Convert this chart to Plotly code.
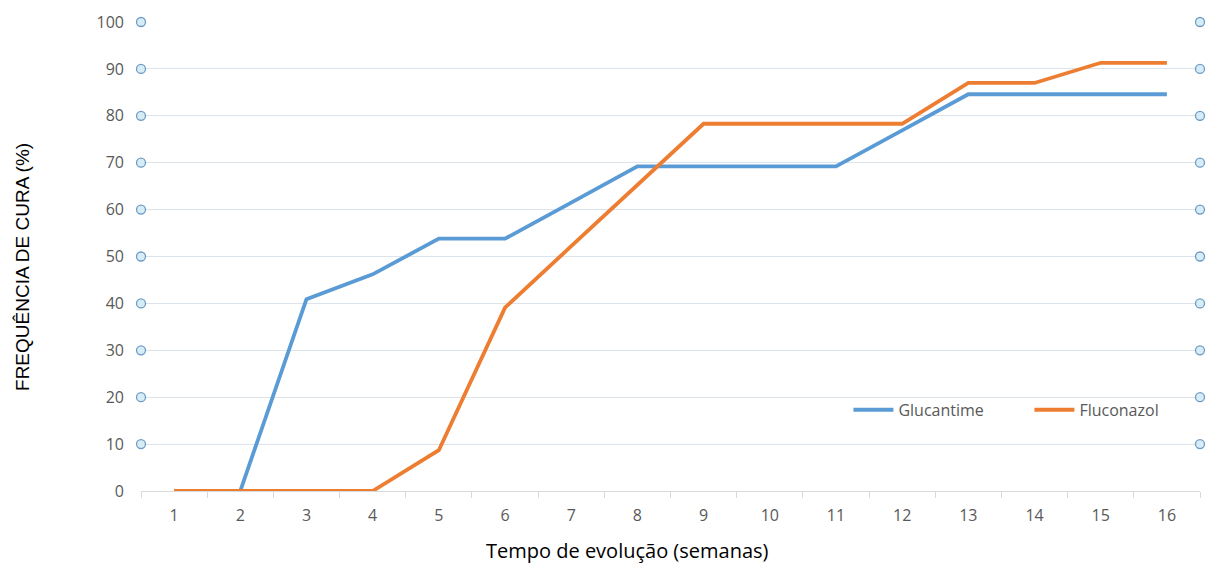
import plotly.graph_objects as go

weeks = [str(i) for i in range(1, 17)]
glucantime = [0, 0, 40.9, 46.2, 53.8, 53.8, 61.5, 69.2, 69.2, 69.2, 69.2, 76.9, 84.6, 84.6, 84.6, 84.6]
fluconazol = [0, 0, 0, 0, 8.7, 39.1, 52.2, 65.2, 78.3, 78.3, 78.3, 78.3, 87.0, 87.0, 91.3, 91.3]
y_ticks = [0, 10, 20, 30, 40, 50, 60, 70, 80, 90, 100]
marker_ticks = y_ticks[1:]

fig = go.Figure()
fig.add_trace(go.Scatter(x=weeks, y=glucantime, mode="lines", name="Glucantime",
                         line=dict(color="#5b9bd5", width=3.8)))
fig.add_trace(go.Scatter(x=weeks, y=fluconazol, mode="lines", name="Fluconazol",
                         line=dict(color="#ed7d31", width=3.8)))
# small circle markers at the tick positions on both sides
for side in [0, 1]:
    fig.add_trace(go.Scatter(x=[side] * len(marker_ticks), y=marker_ticks, mode="markers",
                             xaxis="x2", showlegend=False, hoverinfo="skip", cliponaxis=False,
                             marker=dict(size=9, color="#d6ecf7",
                                         line=dict(color="#6f9cc4", width=1.3))))

fig.update_layout(
    width=1214, height=563,
    margin=dict(l=133, r=22, t=14, b=80, autoexpand=False),
    paper_bgcolor="white", plot_bgcolor="white",
    font=dict(family="Open Sans", color="#595959", size=16),
    xaxis=dict(type="category", categoryorder="array", categoryarray=weeks,
               tickson="boundaries", ticks="outside", ticklen=6, tickcolor="#d9d9d9",
               showline=True, linecolor="#d9d9d9", linewidth=1, showgrid=False,
               range=[-0.5, 15.5], ticklabelstandoff=10),
    xaxis2=dict(overlaying="x", range=[0, 1], visible=False),
    yaxis=dict(range=[0, 100], tickvals=y_ticks, showgrid=True, gridcolor="#dde3ea",
               gridwidth=1, zeroline=False, showline=False, ticks="",
               ticklabelstandoff=16),
    legend=dict(orientation="h", x=0.668, y=0.173, xanchor="left", yanchor="middle",
                bgcolor="rgba(0,0,0,0)", font=dict(size=16, color="#595959"),
                itemwidth=40, entrywidth=126),
    annotations=[
        dict(text="Tempo de evolução (semanas)", xref="paper", yref="paper",
             x=0.459, y=-0.1258, xanchor="center", yanchor="middle", showarrow=False,
             font=dict(family="Open Sans", size=20, color="#000000")),
        dict(text="FREQUÊNCIA DE CURA (%)", xref="paper", yref="paper",
             x=-0.1124, y=0.4776, xanchor="center", yanchor="middle", showarrow=False,
             textangle=-90,
             font=dict(family="Liberation Sans", size=19, color="#000000")),
    ],
)

fig.write_html("out.html")
